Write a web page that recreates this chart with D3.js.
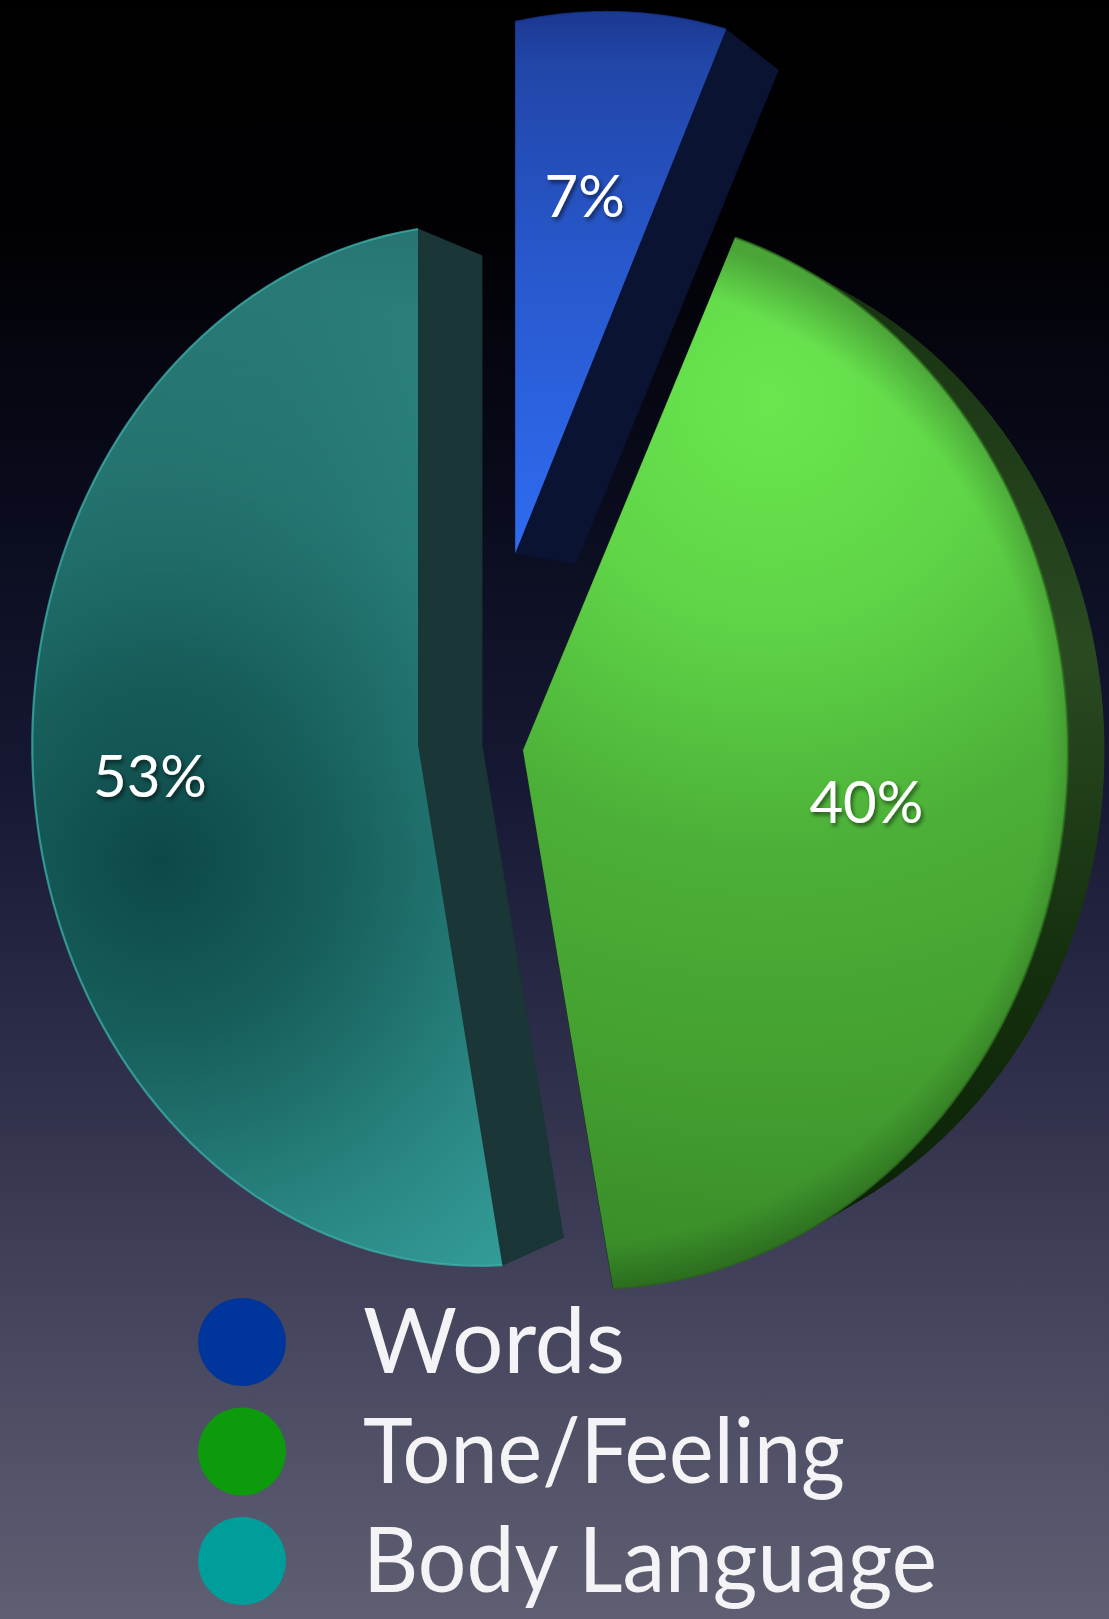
<!DOCTYPE html>
<html>
<head>
<meta charset="utf-8">
<script src="https://cdn.jsdelivr.net/npm/d3@7"></script>
<style>
  html, body { margin: 0; padding: 0; background: #000; }
  svg { display: block; }
</style>
</head>
<body>
<svg id="chart" width="1109" height="1619"></svg>
<script>
// ---- data ----
const categories = ["Words", "Tone/Feeling", "Body Language"];
const shares = [7, 40, 53];
const legendColors = ["#00369c", "#0d9a0d", "#009e9b"];

// ---- view setup: a thick disc turned about its vertical axis, seen in perspective ----
const W = 1109, H = 1619;
const G0 = 516;            // screen radius at the disc centre's depth
const Q = 0.137;           // perspective strength
const COS = 0.85, SIN = Math.sqrt(1 - COS * COS);
const D = SIN / Q;         // camera distance (in disc radii)
const F = G0 * D;
const CX = 418, CY = 745;  // screen position of the disc centre
const DEPTH = 0.248;       // disc thickness (in disc radii)
const LABEL_R = 0.67;

// slice displacement in the disc plane (exploded pie)
const offsets = [[0.215, -0.36], [0.232, 0.01], [0, 0]];

function project(u, v, w) {
  const X = u * COS + w * SIN, Y = v, Z = D - u * SIN + w * COS;
  return [CX + F * X / Z, CY + F * Y / Z];
}

const svg = d3.select("#chart");
const defs = svg.append("defs");

// background
const bg = defs.append("linearGradient").attr("id", "bg")
  .attr("x1", 0).attr("y1", 0).attr("x2", 0).attr("y2", 1);
[[0, "#000000"], [0.14, "#010104"], [0.32, "#0a0c1e"], [0.5, "#181a36"],
 [0.7, "#34344f"], [0.85, "#4a4a62"], [1, "#5f5f73"]]
  .forEach(([o, c]) => bg.append("stop").attr("offset", o).attr("stop-color", c));
svg.append("rect").attr("width", W).attr("height", H).attr("fill", "url(#bg)");

// face shading
const gWords = defs.append("linearGradient").attr("id", "faceWords")
  .attr("gradientUnits", "userSpaceOnUse")
  .attr("x1", 0).attr("y1", 20).attr("x2", 0).attr("y2", 560);
[[0, "#1c3a94"], [0.08, "#2146a8"], [0.45, "#2858cc"], [1, "#2f6cf2"]]
  .forEach(([o, c]) => gWords.append("stop").attr("offset", o).attr("stop-color", c));

const gTone = defs.append("radialGradient").attr("id", "faceTone")
  .attr("gradientUnits", "userSpaceOnUse")
  .attr("cx", 770).attr("cy", 400).attr("r", 900);
[[0, "#6ae64f"], [0.25, "#5fd447"], [0.5, "#4cb038"], [0.75, "#44a030"], [1, "#378a27"]]
  .forEach(([o, c]) => gTone.append("stop").attr("offset", o).attr("stop-color", c));

const gBody = defs.append("radialGradient").attr("id", "faceBody")
  .attr("gradientUnits", "userSpaceOnUse")
  .attr("cx", 160).attr("cy", 860).attr("r", 600);
[[0, "#0d4846"], [0.3, "#175f5c"], [0.65, "#2a8783"], [1, "#38a7a3"]]
  .forEach(([o, c]) => gBody.append("stop").attr("offset", o).attr("stop-color", c));

// darkening toward the top of the large slice
const gBodyTop = defs.append("linearGradient").attr("id", "bodyTop")
  .attr("gradientUnits", "userSpaceOnUse")
  .attr("x1", 0).attr("y1", 230).attr("x2", 0).attr("y2", 760);
[[0, "#000", 0.3], [0.6, "#000", 0.1], [1, "#000", 0]]
  .forEach(([o, c, a]) => gBodyTop.append("stop").attr("offset", o)
    .attr("stop-color", c).attr("stop-opacity", a));

// bevel darkening along the outer edge of the green slice
const gToneRim = defs.append("radialGradient").attr("id", "toneRim")
  .attr("gradientUnits", "userSpaceOnUse")
  .attr("cx", 560).attr("cy", 760).attr("r", 540);
[[0, "#000", 0], [0.9, "#000", 0], [1, "#000", 0.25]]
  .forEach(([o, c, a]) => gToneRim.append("stop").attr("offset", o)
    .attr("stop-color", c).attr("stop-opacity", a));

// side shading
const sTone = defs.append("linearGradient").attr("id", "sideTone")
  .attr("gradientUnits", "userSpaceOnUse")
  .attr("x1", 0).attr("y1", 250).attr("x2", 0).attr("y2", 1260);
[[0, "#16300f"], [0.4, "#2a4a22"], [0.7, "#15300e"], [1, "#0a2006"]]
  .forEach(([o, c]) => sTone.append("stop").attr("offset", o).attr("stop-color", c));

const faceFill = ["url(#faceWords)", "url(#faceTone)", "url(#faceBody)"];
const faceOverlay = [null, "url(#toneRim)", "url(#bodyTop)"];
const sideFill = ["#0a1331", "url(#sideTone)", "#1b3636"];
const rimStroke = ["#1a3890", "#2d6a1f", "#3cb2ac"];

// text shadow
const shadow = defs.append("filter").attr("id", "txtShadow")
  .attr("x", "-20%").attr("y", "-20%").attr("width", "140%").attr("height", "150%");
shadow.append("feDropShadow").attr("dx", 2).attr("dy", 3)
  .attr("stdDeviation", 2).attr("flood-color", "#000").attr("flood-opacity", 0.55);

// ---- pie layout ----
const pie = d3.pie().sort(null).value(d => d);
const arcs = pie(shares);
const line = d3.line();
const STEPS = 90;

const slices = arcs.map((a, i) => {
  const [ou, ov] = offsets[i];
  const angles = d3.range(STEPS + 1).map(k => a.startAngle + (a.endAngle - a.startAngle) * k / STEPS);
  const facePts = [[ou, ov]].concat(angles.map(t => [ou + Math.sin(t), ov - Math.cos(t)]));
  const front = facePts.map(([u, v]) => project(u, v, 0));
  const back = facePts.map(([u, v]) => project(u, v, DEPTH));
  const arcFront = front.slice(1);
  const mid = (a.startAngle + a.endAngle) / 2;
  const label = project(ou + LABEL_R * Math.sin(mid), ov - LABEL_R * Math.cos(mid), 0);
  return { i, front, back, arcFront, label, value: a.data };
});

// solids (back face + side walls), drawn beneath all fronts
const solids = svg.append("g");
slices.forEach(s => {
  const g = solids.append("g")
    .attr("fill", sideFill[s.i]).attr("stroke", sideFill[s.i]).attr("stroke-width", 0.6)
    .attr("stroke-linejoin", "round");
  g.append("path").attr("d", line(s.back) + "Z");
  const n = s.front.length;
  for (let k = 0; k < n; k++) {
    const k2 = (k + 1) % n;
    g.append("path").attr("d", line([s.front[k], s.front[k2], s.back[k2], s.back[k]]) + "Z");
  }
});

// front faces
const fronts = svg.append("g");
slices.forEach(s => {
  const d = line(s.front) + "Z";
  fronts.append("path").attr("d", d).attr("fill", faceFill[s.i]);
  if (faceOverlay[s.i]) fronts.append("path").attr("d", d).attr("fill", faceOverlay[s.i]);
  fronts.append("path").attr("d", line(s.arcFront))
    .attr("fill", "none").attr("stroke", rimStroke[s.i])
    .attr("stroke-width", 2.2).attr("stroke-opacity", 0.75);
});

// value labels
svg.append("g")
  .selectAll("text").data(slices).join("text")
  .attr("x", d => d.label[0]).attr("y", d => d.label[1])
  .attr("text-anchor", "middle").attr("dominant-baseline", "central")
  .attr("font-family", "Lato, 'Open Sans', sans-serif")
  .attr("font-size", 58).attr("fill", "#ffffff")
  .attr("filter", "url(#txtShadow)")
  .text(d => d.value + "%");

// ---- legend ----
const legendY = d3.scalePoint().domain(categories).range([1342, 1561]);
const legendWidths = [262, 482, 574];
const legend = svg.append("g");
legend.selectAll("circle").data(categories).join("circle")
  .attr("cx", 242).attr("cy", d => legendY(d)).attr("r", 44)
  .attr("fill", (d, i) => legendColors[i]);
legend.selectAll("text").data(categories).join("text")
  .attr("x", 363).attr("y", d => legendY(d) + 31)
  .attr("font-family", "Lato, 'Open Sans', sans-serif")
  .attr("font-size", 92).attr("fill", "#f4f4f6")
  .attr("textLength", (d, i) => legendWidths[i])
  .attr("lengthAdjust", "spacingAndGlyphs")
  .text(d => d);
</script>
</body>
</html>
